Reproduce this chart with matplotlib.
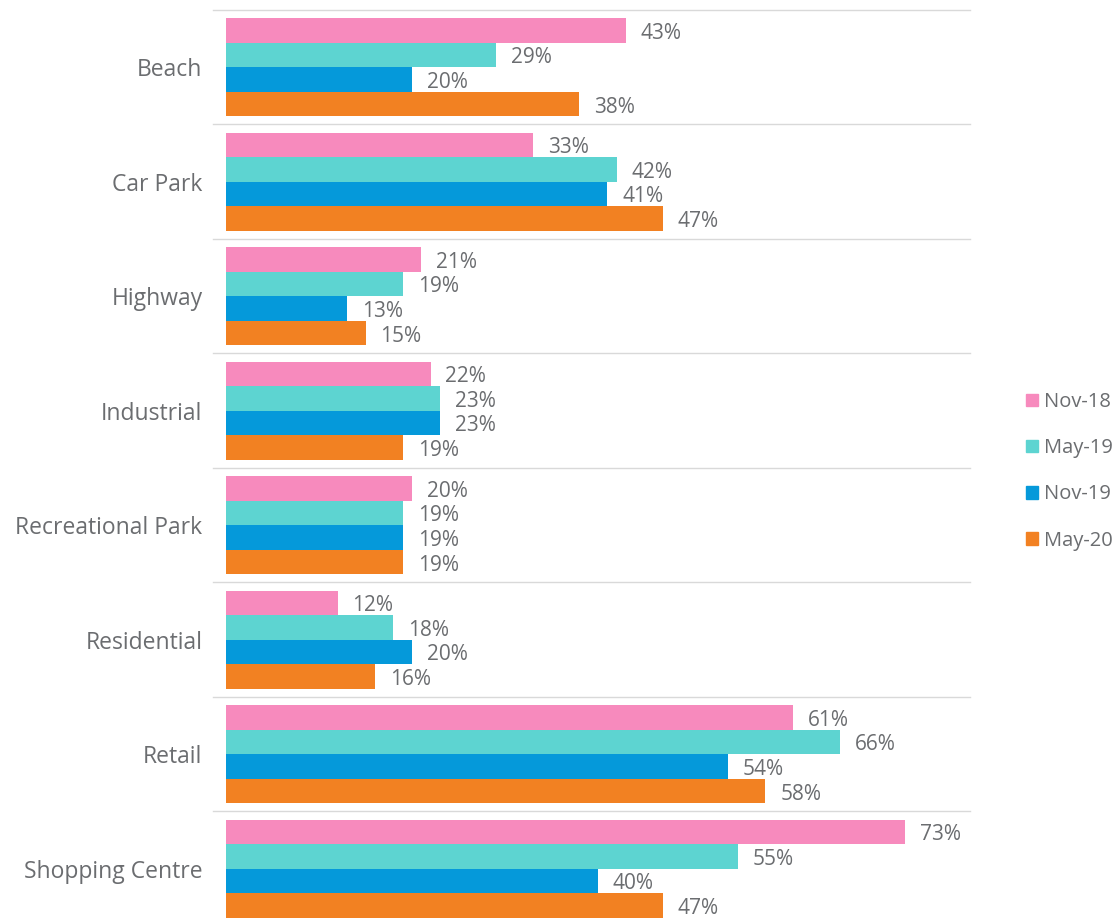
import matplotlib

matplotlib.use("Agg")
import matplotlib.pyplot as plt
import numpy as np
from matplotlib.patches import Patch

categories = ["Beach", "Car Park", "Highway", "Industrial",
              "Recreational Park", "Residential", "Retail", "Shopping Centre"]
periods = ["Nov-18", "May-19", "Nov-19", "May-20"]
nov18 = [43, 33, 21, 22, 20, 12, 61, 73]
may19 = [29, 42, 19, 23, 19, 18, 66, 55]
nov19 = [20, 41, 13, 23, 19, 20, 54, 40]
may20 = [38, 47, 15, 19, 19, 16, 58, 47]
colors = ["#F78ABD", "#5DD4D1", "#0599DA", "#F28122"]
text_color = "#6b6d70"

plt.rcParams["font.family"] = ["Open Sans", "DejaVu Sans"]

W, H = 1117, 922
fig = plt.figure(figsize=(W / 100, H / 100), dpi=100)
ax_left, ax_right, ax_top, ax_bottom = 226, 970, 10, 926
ax = fig.add_axes([ax_left / W, 1 - ax_bottom / H,
                   (ax_right - ax_left) / W, (ax_bottom - ax_top) / H])

n = len(categories)
pad = 0.07
bh = (1 - 2 * pad) / 4
series = [nov18, may19, nov19, may20]
for k, (vals, col, lab) in enumerate(zip(series, colors, periods)):
    ys = np.arange(n) + pad + bh * k + bh / 2
    ax.barh(ys, vals, height=bh, color=col, label=lab)
    for y, v in zip(ys, vals):
        ax.text(v + 1.6, y + 0.025, f"{v}%", va="center", ha="left",
                fontsize=15, color=text_color)

for i in range(n + 1):
    ax.axhline(i, xmin=-0.018, xmax=1, color="#d9d9d9", lw=1, clip_on=False,
               zorder=0)

ax.set_xlim(0, 80)
ax.set_ylim(n, 0)
ax.set_yticks(np.arange(n) + 0.5)
ax.set_yticklabels(categories, fontsize=16.5, color=text_color)
ax.tick_params(axis="y", length=0, pad=17)
ax.set_xticks([])
for s in ax.spines.values():
    s.set_visible(False)

handles = [Patch(color=c, label=l) for c, l in zip(colors, periods)]
leg = fig.legend(handles=handles, loc="upper right",
                 bbox_to_anchor=(1113 / W, 1 - 392 / H), frameon=False,
                 borderpad=0, borderaxespad=0,
                 fontsize=14.5, handlelength=0.6, handleheight=0.6,
                 handletextpad=0.3, labelspacing=1.3, labelcolor=text_color)

fig.savefig("out.png", dpi=100)
